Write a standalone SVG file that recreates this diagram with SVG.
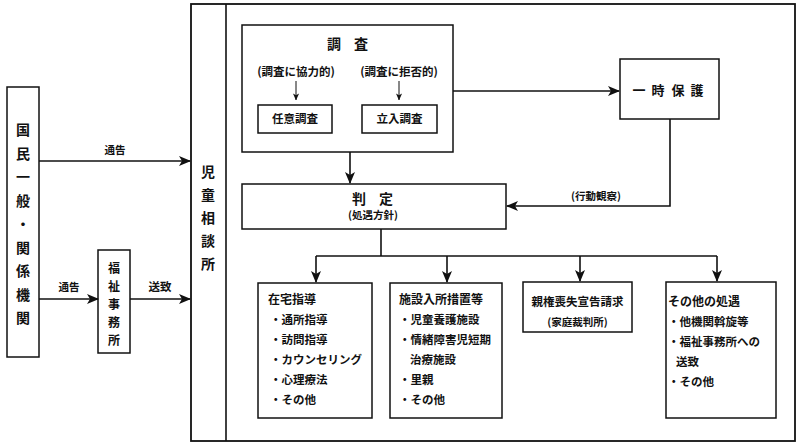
<svg xmlns="http://www.w3.org/2000/svg" width="800" height="445" viewBox="0 0 800 445">
<style>
.box{fill:#fff;stroke:#111;stroke-width:1.5}
.ln{fill:none;stroke:#111;stroke-width:1.6}
.thin{fill:none;stroke:#111;stroke-width:1}
text{font-family:"Noto Sans CJK JP","Noto Sans",sans-serif;fill:#111;font-weight:700}
.t14{font-size:14px}
.t13{font-size:13px}
.t12{font-size:12px}
.t11{font-size:11.5px}
.t10{font-size:10.5px}
.mid{text-anchor:middle}
</style>
<defs>
<marker id="ah" viewBox="0 0 12 10" refX="11" refY="5" markerWidth="12" markerHeight="10" markerUnits="userSpaceOnUse" orient="auto">
<path d="M0,0 L12,5 L0,10 L3,5 z" fill="#111"/>
</marker>
<marker id="ahs" viewBox="0 0 8 7" refX="7.5" refY="3.5" markerWidth="7" markerHeight="7" markerUnits="userSpaceOnUse" orient="auto">
<path d="M0,0 L8,3.5 L0,7 L2,3.5 z" fill="#111"/>
</marker>
</defs>
<rect width="800" height="445" fill="#fff"/>

<g id="kokumin">
<rect class="box" x="7" y="87" width="32" height="270"/>
<text class="t14 mid" x="23 23 23 23 23 23 23 23 23" y="135 158.5 182 205.5 229 252.5 276 299.5 323">国民一般・関係機関</text>
</g>

<g id="fukushi">
<rect class="box" x="98" y="250" width="32" height="103"/>
<text class="t12 mid" x="114 114 114 114 114" y="273 291 309 327 345">福祉事務所</text>
</g>

<g id="jidou">
<rect x="191" y="4" width="604" height="437" style="fill:none;stroke:#111;stroke-width:1.8"/>
<line class="ln" x1="226" y1="4" x2="226" y2="441"/>
<text class="t14 mid" x="208 208 208 208 208" y="177 200 223 246 269">児童相談所</text>
</g>

<g id="chousa">
<rect class="box" x="242" y="25" width="211" height="127"/>
<text class="t14 mid" x="334 361" y="49">調査</text>
<text class="t11 mid" x="296" y="76">(調査に協力的)</text>
<text class="t11 mid" x="399" y="76">(調査に拒否的)</text>
</g>

<g id="nini">
<rect class="box" x="258" y="105" width="74" height="28"/>
<text class="t11 mid" x="295" y="123">任意調査</text>
</g>

<g id="tachiiri">
<rect class="box" x="362" y="105" width="75" height="28"/>
<text class="t11 mid" x="399.5" y="123">立入調査</text>
</g>

<g id="ichiji">
<rect class="box" x="620" y="59" width="99" height="60"/>
<text class="t13 mid" x="639 658 678 697" y="95">一時保護</text>
</g>

<g id="hantei">
<rect class="box" x="242" y="184" width="264" height="45"/>
<text class="t14 mid" x="359 386" y="204">判定</text>
<text class="t10 mid" x="373" y="219">(処遇方針)</text>
</g>

<g id="zaitaku">
<rect class="box" x="258" y="283" width="114" height="135"/>
<text class="t12" x="268" y="304">在宅指導</text>
<text class="t11" x="270" y="324">・通所指導</text>
<text class="t11" x="270" y="344">・訪問指導</text>
<text class="t11" x="270" y="364">・カウンセリング</text>
<text class="t11" x="270" y="384">・心理療法</text>
<text class="t11" x="270" y="404">・その他</text>
</g>

<g id="shisetsu">
<rect class="box" x="390" y="283" width="112" height="135"/>
<text class="t12" x="399" y="304">施設入所措置等</text>
<text class="t11" x="399" y="324">・児童養護施設</text>
<text class="t11" x="399" y="344">・情緒障害児短期</text>
<text class="t11" x="410" y="364">治療施設</text>
<text class="t11" x="399" y="384">・里親</text>
<text class="t11" x="399" y="404">・その他</text>
</g>

<g id="shinken">
<rect class="box" x="523" y="282" width="109" height="50"/>
<text class="t11 mid" x="577.5" y="306">親権喪失宣告請求</text>
<text class="t10 mid" x="577.5" y="326">(家庭裁判所)</text>
</g>

<g id="sonota">
<rect class="box" x="666" y="282" width="110" height="136"/>
<text class="t12" x="668" y="306">その他の処遇</text>
<text class="t11" x="668" y="326">・他機関斡旋等</text>
<text class="t11" x="668" y="346">・福祉事務所への</text>
<text class="t11" x="676" y="366">送致</text>
<text class="t11" x="668" y="386">・その他</text>
</g>

<g id="connectors">
<line class="ln" x1="39" y1="161" x2="190" y2="161" marker-end="url(#ah)"/>
<line class="ln" x1="39" y1="299" x2="98" y2="299" marker-end="url(#ah)"/>
<line class="ln" x1="130" y1="299" x2="190" y2="299" marker-end="url(#ah)"/>
<line class="thin" x1="296" y1="81" x2="296" y2="100" marker-end="url(#ahs)"/>
<line class="thin" x1="399" y1="81" x2="399" y2="100" marker-end="url(#ahs)"/>
<line class="ln" x1="453" y1="91" x2="619" y2="91" marker-end="url(#ah)"/>
<line class="ln" x1="350" y1="152" x2="350" y2="183" marker-end="url(#ah)"/>
<polyline class="ln" points="670,119 670,206 507,206" marker-end="url(#ah)"/>
<line class="ln" x1="381" y1="229" x2="381" y2="256"/>
<line class="ln" x1="316" y1="256" x2="717" y2="256"/>
<line class="ln" x1="316" y1="256" x2="316" y2="282" marker-end="url(#ah)"/>
<line class="ln" x1="447" y1="256" x2="447" y2="282" marker-end="url(#ah)"/>
<line class="ln" x1="580" y1="256" x2="580" y2="281" marker-end="url(#ah)"/>
<line class="ln" x1="717" y1="256" x2="717" y2="281" marker-end="url(#ah)"/>
<text class="t10 mid" x="115" y="154">通告</text>
<text class="t10 mid" x="69" y="291">通告</text>
<text class="t11 mid" x="160" y="291">送致</text>
<text class="t10 mid" x="596" y="200">(行動観察)</text>
</g>
</svg>
